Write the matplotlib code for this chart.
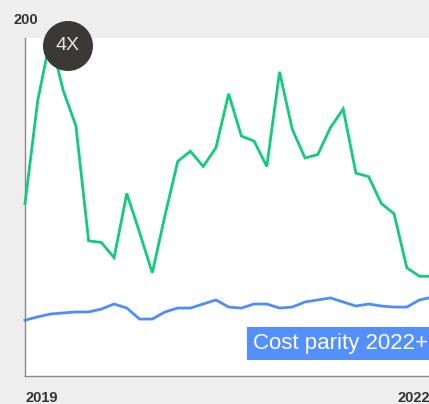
import matplotlib
matplotlib.use("Agg")
import matplotlib.pyplot as plt
from matplotlib.patches import Ellipse, Rectangle

plt.rcParams['font.family'] = ['Liberation Sans', 'DejaVu Sans']

# values (one point per period)
green = [102, 163, 200, 169, 148, 80, 79, 70, 108, 85, 61, 95, 127, 133, 124, 135,
         167, 142, 139, 124, 180, 146, 129, 131, 147, 158, 120, 118, 102, 96, 64, 59, 59]
blue = [33, 35, 36.7, 37.3, 37.9, 37.9, 39.6, 42.6, 40.2, 33.7, 33.7, 37.9, 40.2, 40.2, 42.6, 45,
        40.8, 40.2, 42.6, 42.6, 40.2, 40.8, 43.8, 45, 46.2, 43.8, 41.4, 42.6, 41.4, 40.8, 40.8, 45, 46.7]
x_labels = ["2019", "2022"]
x_label_pos = [0, 29.3]
y_max = 200

W, H = 429, 404
fig = plt.figure(figsize=(W / 100, H / 100), dpi=100, facecolor="#eeeeee")
ax = fig.add_axes([25 / W, 28 / H, 420 / W, 338 / H])
ax.set_facecolor("white")

x = list(range(len(green)))
ax.plot(x, green, color="#12cc7b", lw=2.0, solid_joinstyle="miter", clip_on=False, zorder=3)
ax.plot(x, blue, color="#4f8ef8", lw=2.0, clip_on=False, zorder=3)

ax.set_xlim(0, 33)
ax.set_ylim(0, y_max)
ax.set_xticks([])
ax.set_yticks([])
for s in ["top", "right"]:
    ax.spines[s].set_visible(False)
for s in ["left", "bottom"]:
    ax.spines[s].set_color("#8a8a8a")
    ax.spines[s].set_linewidth(1.0)

# axis labels
ax.text(-0.027, 1.052, str(y_max), transform=ax.transAxes, fontsize=10.5,
        fontweight="bold", color="#333333", ha="left", va="center")
for lab, pos in zip(x_labels, x_label_pos):
    ax.text(pos, -0.065, lab, transform=ax.get_xaxis_transform(), fontsize=10.5,
            fontweight="bold", color="#333333", ha="left", va="center", clip_on=False)

# "4X" badge
badge = Ellipse((68 / W, 1 - 46 / H), 50 / W, 50 / H, transform=fig.transFigure,
                facecolor="#3b3936", edgecolor="none", zorder=5)
fig.patches.append(badge)
fig.text(68 / W, 1 - 46 / H, "4X", fontsize=14, color="#e6e6e6",
         ha="center", va="center", zorder=6)

# label box
box = Rectangle((247 / W, 1 - 360 / H), 200 / W, 33 / H, transform=fig.transFigure,
                facecolor="#5490fb", edgecolor="none", zorder=5)
fig.patches.append(box)
fig.text(253 / W, 1 - 344 / H, "Cost parity 2022+", fontsize=16, color="white",
         ha="left", va="center", zorder=6)

fig.savefig("out.png", dpi=100, facecolor=fig.get_facecolor())
